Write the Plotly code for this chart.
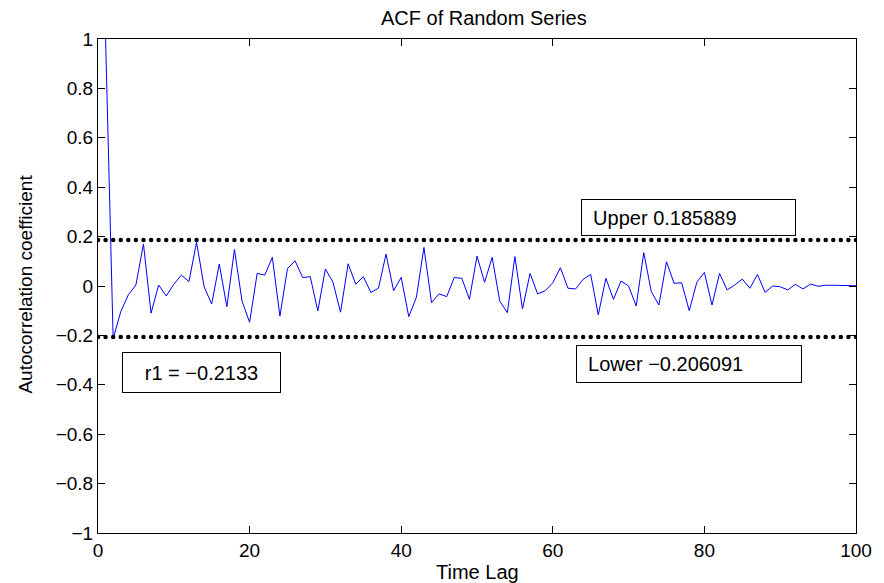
import plotly.graph_objects as go

# ---- data ----
lags = list(range(1, 101))
acf = [1.0, -0.2133, -0.104, -0.036, 0.004, 0.170, -0.110, 0.004, -0.040, 0.007,
       0.044, 0.018, 0.177, -0.003, -0.073, 0.089, -0.084, 0.148, -0.061, -0.147,
       0.051, 0.044, 0.116, -0.122, 0.071, 0.102, 0.034, 0.038, -0.101, 0.069,
       0.015, -0.106, 0.090, 0.007, 0.038, -0.026, -0.009, 0.129, -0.019, 0.035,
       -0.124, -0.046, 0.156, -0.067, -0.032, -0.043, 0.034, 0.031, -0.054, 0.121,
       0.015, 0.116, -0.061, -0.108, 0.119, -0.093, 0.051, -0.032, -0.019, 0.013,
       0.074, -0.009, -0.012, 0.027, 0.047, -0.117, 0.031, -0.054, 0.020, 0.000,
       -0.081, 0.135, -0.023, -0.077, 0.098, 0.011, 0.013, -0.100, 0.015, 0.055,
       -0.077, 0.051, -0.016, 0.004, 0.028, -0.009, 0.047, -0.026, 0.000, -0.003,
       -0.016, 0.007, -0.012, 0.008, -0.001, 0.003, 0.003, 0.002, 0.001, 0.001]
bound_x = list(range(0, 101))
upper = 0.185889
lower = -0.206091
r1 = -0.2133

x_ticks = [0, 20, 40, 60, 80, 100]
y_ticks = [-1, -0.8, -0.6, -0.4, -0.2, 0, 0.2, 0.4, 0.6, 0.8, 1]
y_ticktext = ["\u22121", "\u22120.8", "\u22120.6", "\u22120.4", "\u22120.2", "0",
              "0.2", "0.4", "0.6", "0.8", "1"]

FONT = "Liberation Sans, Arial, Helvetica, sans-serif"

fig = go.Figure()
fig.add_trace(go.Scatter(x=lags, y=acf, mode="lines",
                         line=dict(color="#0000ff", width=1), showlegend=False))
fig.add_trace(go.Scatter(x=bound_x, y=[upper] * len(bound_x), mode="markers",
                         marker=dict(color="black", size=4.5, symbol="circle"),
                         showlegend=False))
fig.add_trace(go.Scatter(x=bound_x, y=[lower] * len(bound_x), mode="markers",
                         marker=dict(color="black", size=4.5, symbol="circle"),
                         showlegend=False))

axis_common = dict(showline=True, linecolor="black", linewidth=1, mirror="allticks",
                   ticks="inside", ticklen=7, tickcolor="black", tickwidth=1,
                   showgrid=False, zeroline=False,
                   tickfont=dict(family=FONT, size=19, color="black"))

fig.update_xaxes(range=[0, 100], tickvals=x_ticks, **axis_common)
fig.update_yaxes(range=[-1, 1], tickvals=y_ticks, ticktext=y_ticktext, **axis_common)

PW, PH = 764, 494
L, T = 98, 39


def px(xpix):
    return (xpix - L) / PW


def py(ypix):
    return (T + PH - ypix) / PH


annos = [
    dict(text="ACF of Random Series", x=px(487), y=py(18), xref="paper", yref="paper",
         showarrow=False, font=dict(family=FONT, size=20, color="black"),
         xanchor="center", yanchor="middle"),
    dict(text="Time Lag", x=px(480), y=py(572), xref="paper", yref="paper",
         showarrow=False, font=dict(family=FONT, size=20, color="black"),
         xanchor="center", yanchor="middle"),
    dict(text="Autocorrelation coefficient", x=px(24), y=py(284), xref="paper",
         yref="paper", showarrow=False, textangle=-90,
         font=dict(family=FONT, size=19, color="black"),
         xanchor="center", yanchor="middle"),
    dict(text="\u00a0\u00a0Upper 0.185889", x=px(693.5), y=py(217.5), xref="paper",
         yref="paper", showarrow=False, font=dict(family=FONT, size=20, color="black"),
         xanchor="center", yanchor="middle", width=213, height=35, align="left",
         bordercolor="black", borderwidth=1, borderpad=0, bgcolor="white"),
    dict(text="\u00a0\u00a0Lower \u22120.206091", x=px(694), y=py(364), xref="paper",
         yref="paper", showarrow=False, font=dict(family=FONT, size=20, color="black"),
         xanchor="center", yanchor="middle", width=224, height=36, align="left",
         bordercolor="black", borderwidth=1, borderpad=0, bgcolor="white"),
    dict(text="r1 = \u22120.2133", x=px(202.5), y=py(372.5), xref="paper",
         yref="paper", showarrow=False, font=dict(family=FONT, size=20, color="black"),
         xanchor="center", yanchor="middle", width=157, height=39, align="center",
         bordercolor="black", borderwidth=1, borderpad=0, bgcolor="white"),
]

fig.update_layout(
    width=884, height=583,
    margin=dict(l=L, r=884 - L - PW, t=T, b=583 - T - PH),
    paper_bgcolor="white", plot_bgcolor="white",
    annotations=annos,
    font=dict(family=FONT, color="black"),
)

fig.write_html("out.html")
